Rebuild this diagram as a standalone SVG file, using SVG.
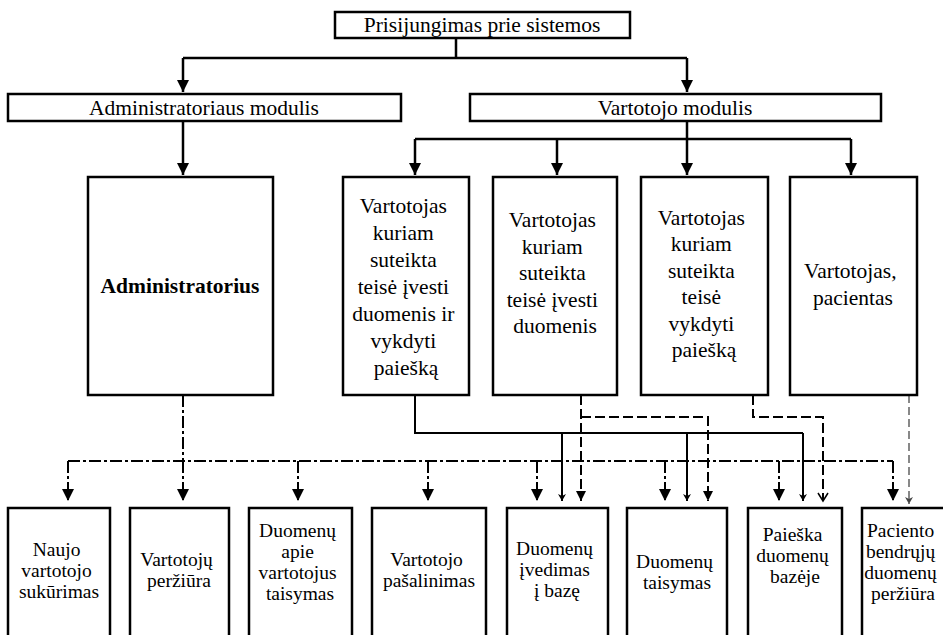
<svg xmlns="http://www.w3.org/2000/svg" width="943" height="635" viewBox="0 0 943 635">
  <style>
    .box { fill: #fff; stroke: #000; stroke-width: 2.5; }
    .t { font-family: "Liberation Serif", "Times New Roman", serif; font-size: 21.5px; fill: #000; text-anchor: middle; }
    .s { font-size: 19.5px; }
    .b { font-weight: bold; }
    .solid { fill: none; stroke: #000; stroke-width: 2.5; }
    .thin { fill: none; stroke: #000; stroke-width: 2; }
    .dashdot { fill: none; stroke: #000; stroke-width: 2; stroke-dasharray: 12 3 3 3; }
    .dash { fill: none; stroke: #000; stroke-width: 2; stroke-dasharray: 10 4; }
    .grey { fill: none; stroke: #888; stroke-width: 2; stroke-dasharray: 8 4; }
  </style>
  <defs>
    <!-- heads are drawn along +x; orient="auto" turns them to the line direction -->
    <marker id="ah" markerUnits="userSpaceOnUse" markerWidth="14" markerHeight="14" viewBox="0 0 14 14" refX="13" refY="7" orient="auto">
      <path d="M1 1 L13 7 L1 13 Z" fill="#000"/>
    </marker>
    <marker id="ahn" markerUnits="userSpaceOnUse" markerWidth="12" markerHeight="12" viewBox="0 0 12 12" refX="11" refY="6" orient="auto">
      <path d="M1 1 L11 6 L1 11 Z" fill="#000"/>
    </marker>
    <marker id="ahs" markerUnits="userSpaceOnUse" markerWidth="10" markerHeight="10" viewBox="0 0 10 10" refX="9" refY="5" orient="auto">
      <path d="M2 1 L4 5 L2 9 L9 5 Z" fill="#000"/>
    </marker>
    <marker id="aho" markerUnits="userSpaceOnUse" markerWidth="12" markerHeight="12" viewBox="0 0 12 12" refX="10" refY="6" orient="auto">
      <path d="M2 1 L10 6 L2 11" fill="none" stroke="#000" stroke-width="1.5"/>
    </marker>
    <marker id="ahg" markerUnits="userSpaceOnUse" markerWidth="10" markerHeight="10" viewBox="0 0 10 10" refX="9" refY="5" orient="auto">
      <path d="M2 1 L4 5 L2 9 L9 5 Z" fill="#444"/>
    </marker>
  </defs>

  <!-- connectors -->
  <g id="connectors">
    <!-- login to modules -->
    <path class="solid" d="M456 38 V58 M183 58 H687"/>
    <path class="solid" d="M183 58 V92" marker-end="url(#ah)"/>
    <path class="solid" d="M687 58 V92" marker-end="url(#ah)"/>
    <!-- admin module to admin -->
    <path class="solid" d="M183 121 V175" marker-end="url(#ah)"/>
    <!-- user module to user roles -->
    <path class="solid" d="M687 121 V139 M415 139 H851"/>
    <path class="solid" d="M415 139 V175" marker-end="url(#ah)"/>
    <path class="solid" d="M557 139 V175" marker-end="url(#ah)"/>
    <path class="solid" d="M687 139 V175" marker-end="url(#ah)"/>
    <path class="solid" d="M851 139 V175" marker-end="url(#ah)"/>

    <!-- admin: dash-dot bus to every function -->
    <path class="dashdot" d="M183 395 V461 M68 461 H893"/>
    <path class="dashdot" d="M68 461 V501" marker-end="url(#ah)"/>
    <path class="dashdot" d="M183 461 V501" marker-end="url(#ah)"/>
    <path class="dashdot" d="M298 461 V501" marker-end="url(#ah)"/>
    <path class="dashdot" d="M428 461 V501" marker-end="url(#ah)"/>
    <path class="dashdot" d="M537 461 V501" marker-end="url(#ah)"/>
    <path class="dashdot" d="M665 461 V501" marker-end="url(#ah)"/>
    <path class="dashdot" d="M779 461 V501" marker-end="url(#ah)"/>
    <path class="dashdot" d="M893 461 V501" marker-end="url(#ah)"/>

    <!-- entry + search user: solid -->
    <path class="thin" d="M415 395 V433 H803"/>
    <path class="thin" d="M562 433 V501" marker-end="url(#ahs)"/>
    <path class="thin" d="M687 433 V501" marker-end="url(#ahs)"/>
    <path class="thin" d="M803 433 V501" marker-end="url(#ahs)"/>

    <!-- entry user: dashed -->
    <path class="dash" d="M581 395 V501" marker-end="url(#ahn)"/>
    <path class="dash" d="M581 417 H708 V501" marker-end="url(#ahn)"/>

    <!-- search user: dashed -->
    <path class="dash" d="M753 395 V417 H823 V501" marker-end="url(#aho)"/>

    <!-- patient: grey dashed -->
    <path class="grey" d="M909 395 V504" marker-end="url(#ahg)"/>
  </g>

  <!-- top level -->
  <g id="login">
    <rect class="box" x="335" y="12" width="295" height="26"/>
    <text class="t" x="482" y="32">Prisijungimas prie sistemos</text>
  </g>
  <g id="admin-module">
    <rect class="box" x="8" y="94" width="393" height="27"/>
    <text class="t" x="204" y="115">Administratoriaus modulis</text>
  </g>
  <g id="user-module">
    <rect class="box" x="470" y="94" width="411" height="27"/>
    <text class="t" x="675" y="115">Vartotojo modulis</text>
  </g>

  <!-- roles -->
  <g id="admin">
    <rect class="box" x="88" y="177" width="185" height="218"/>
    <text class="t b" x="180" y="293">Administratorius</text>
  </g>
  <g id="user-entry-search">
    <rect class="box" x="343" y="177" width="126" height="218"/>
    <text class="t" x="406">
      <tspan x="406" y="213">Vartotojas</tspan>
      <tspan x="406" y="240">kuriam</tspan>
      <tspan x="406" y="267">suteikta</tspan>
      <tspan x="406" y="294">teisė įvesti</tspan>
      <tspan x="406" y="321">duomenis ir</tspan>
      <tspan x="406" y="348">vykdyti</tspan>
      <tspan x="406" y="375">paiešką</tspan>
    </text>
  </g>
  <g id="user-entry">
    <rect class="box" x="493" y="177" width="124" height="218"/>
    <text class="t" x="555">
      <tspan x="555" y="227">Vartotojas</tspan>
      <tspan x="555" y="254">kuriam</tspan>
      <tspan x="555" y="280">suteikta</tspan>
      <tspan x="555" y="307">teisė įvesti</tspan>
      <tspan x="555" y="333">duomenis</tspan>
    </text>
  </g>
  <g id="user-search">
    <rect class="box" x="641" y="177" width="127" height="218"/>
    <text class="t" x="704">
      <tspan x="704" y="225">Vartotojas</tspan>
      <tspan x="704" y="251">kuriam</tspan>
      <tspan x="704" y="278">suteikta</tspan>
      <tspan x="704" y="304">teisė</tspan>
      <tspan x="704" y="331">vykdyti</tspan>
      <tspan x="704" y="357">paiešką</tspan>
    </text>
  </g>
  <g id="user-patient">
    <rect class="box" x="790" y="177" width="127" height="218"/>
    <text class="t" x="853">
      <tspan x="853" y="278">Vartotojas,</tspan>
      <tspan x="853" y="305">pacientas</tspan>
    </text>
  </g>

  <!-- functions -->
  <g id="f-create">
    <rect class="box" x="8" y="508" width="102" height="140"/>
    <text class="t s" x="59">
      <tspan x="59" y="556">Naujo</tspan>
      <tspan x="59" y="577">vartotojo</tspan>
      <tspan x="59" y="598">sukūrimas</tspan>
    </text>
  </g>
  <g id="f-view">
    <rect class="box" x="130" y="508" width="99" height="140"/>
    <text class="t s" x="179">
      <tspan x="179" y="566">Vartotojų</tspan>
      <tspan x="179" y="587">peržiūra</tspan>
    </text>
  </g>
  <g id="f-edit-users">
    <rect class="box" x="249" y="508" width="103" height="140"/>
    <text class="t s" x="300">
      <tspan x="300" y="537">Duomenų</tspan>
      <tspan x="300" y="558">apie</tspan>
      <tspan x="300" y="579">vartotojus</tspan>
      <tspan x="300" y="600">taisymas</tspan>
    </text>
  </g>
  <g id="f-remove">
    <rect class="box" x="372" y="508" width="114" height="140"/>
    <text class="t s" x="429">
      <tspan x="429" y="566">Vartotojo</tspan>
      <tspan x="429" y="587">pašalinimas</tspan>
    </text>
  </g>
  <g id="f-entry">
    <rect class="box" x="507" y="508" width="101" height="140"/>
    <text class="t s" x="557">
      <tspan x="557" y="555">Duomenų</tspan>
      <tspan x="557" y="576">įvedimas</tspan>
      <tspan x="557" y="597">į bazę</tspan>
    </text>
  </g>
  <g id="f-edit">
    <rect class="box" x="627" y="508" width="100" height="140"/>
    <text class="t s" x="677">
      <tspan x="677" y="568">Duomenų</tspan>
      <tspan x="677" y="589">taisymas</tspan>
    </text>
  </g>
  <g id="f-search">
    <rect class="box" x="748" y="508" width="94" height="140"/>
    <text class="t s" x="795">
      <tspan x="795" y="541">Paieška</tspan>
      <tspan x="795" y="562">duomenų</tspan>
      <tspan x="795" y="583">bazėje</tspan>
    </text>
  </g>
  <g id="f-patient">
    <rect class="box" x="862" y="508" width="100" height="140"/>
    <text class="t s" x="903">
      <tspan x="903" y="537">Paciento</tspan>
      <tspan x="903" y="558">bendrųjų</tspan>
      <tspan x="903" y="579">duomenų</tspan>
      <tspan x="903" y="600">peržiūra</tspan>
    </text>
  </g>
</svg>
